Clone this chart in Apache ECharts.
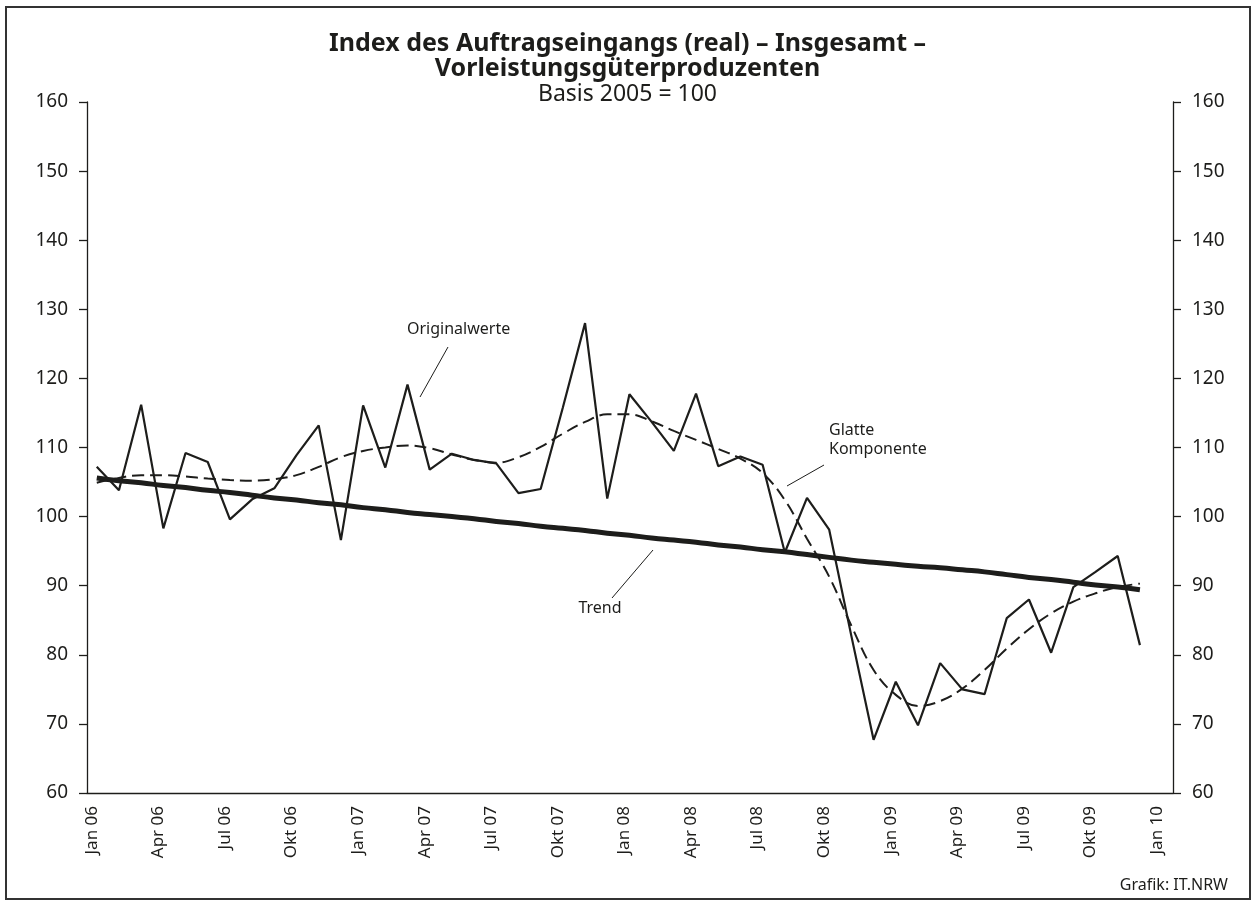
<!DOCTYPE html>
<html>
<head>
<meta charset="utf-8" />
<title>Index des Auftragseingangs</title>
<style>html,body{margin:0;padding:0;background:#fff}#chart{width:1255px;height:901px}</style>
<script src="https://cdn.jsdelivr.net/npm/echarts@6/dist/echarts.min.js"></script>
</head>
<body>
<div id="chart"></div>
<script>
// Monatswerte Jan 06 .. Dez 09 (Index 0 = Jan 06)
const originalwerte = [
  107.2, 103.8, 116.2, 98.3, 109.2, 107.9, 99.6, 102.5, 104.1, 108.9, 113.2, 96.6,
  116.1, 107.1, 119.1, 106.8, 109.1, 108.2, 107.7, 103.4, 104.0, 115.8, 128.0, 102.6,
  117.7, 113.7, 109.5, 117.8, 107.3, 108.7, 107.5, 94.8, 102.7, 98.1, 82.7, 67.7,
  76.1, 69.8, 78.8, 75.0, 74.3, 85.3, 88.0, 80.3, 89.8, 92.0, 94.3, 81.4
];
const glatteKomponente = [
  104.9, 105.6, 106.0, 106.0, 105.8, 105.5, 105.3, 105.2, 105.4, 106.0, 107.2, 108.6,
  109.5, 110.0, 110.3, 109.9, 109.0, 108.2, 107.8, 108.6, 110.1, 112.0, 113.7, 114.8,
  114.8, 113.8, 112.4, 111.1, 109.8, 108.4, 106.3, 102.4, 96.8, 91.3, 84.2, 77.8,
  74.2, 72.6, 73.3, 75.1, 77.8, 80.9, 83.7, 86.0, 87.7, 88.9, 89.8, 90.3
];
const trend = [
  105.6, 105.2, 104.9, 104.5, 104.2, 103.8, 103.5, 103.1, 102.7, 102.4, 102.0, 101.7,
  101.3, 101.0, 100.6, 100.3, 100.0, 99.7, 99.3, 99.0, 98.6, 98.3, 98.0, 97.6,
  97.3, 96.9, 96.6, 96.3, 95.9, 95.6, 95.2, 94.9, 94.5, 94.1, 93.7, 93.4,
  93.1, 92.8, 92.6, 92.3, 92.0, 91.6, 91.2, 90.9, 90.5, 90.1, 89.8, 89.4
];
const tickMonths = [0, 3, 6, 9, 12, 15, 18, 21, 24, 27, 30, 33, 36, 39, 42, 45, 48];
const tickLabels = [
  'Jan 06', 'Apr 06', 'Jul 06', 'Okt 06', 'Jan 07', 'Apr 07', 'Jul 07', 'Okt 07',
  'Jan 08', 'Apr 08', 'Jul 08', 'Okt 08', 'Jan 09', 'Apr 09', 'Jul 09', 'Okt 09', 'Jan 10'
];
const yTicks = [60, 70, 80, 90, 100, 110, 120, 130, 140, 150, 160];

const FONT = '"Noto Sans", "Open Sans", sans-serif';
const INK = '#1d1d1b';

const toPairs = (arr) => arr.map((v, i) => [i, v]);

const chart = echarts.init(document.getElementById('chart'), null, { renderer: 'canvas' });

const yAxisBase = {
  type: 'value',
  min: yTicks[0],
  max: yTicks[yTicks.length - 1],
  interval: 10,
  axisLine: { show: true, onZero: false, lineStyle: { color: INK, width: 1.3 } },
  axisTick: { show: true, inside: false, length: 8, lineStyle: { color: INK, width: 1.3 } },
  axisLabel: { fontFamily: FONT, fontSize: 19, color: INK, margin: 19 },
  splitLine: { show: false }
};

chart.setOption({
  animation: false,
  backgroundColor: '#fff',
  grid: { left: 87, right: 82, top: 102, bottom: 108, outerBoundsMode: 'none', containLabel: false },
  xAxis: {
    type: 'value',
    min: -0.44,
    max: 48.49,
    axisLine: { show: true, onZero: false, lineStyle: { color: INK, width: 1.3 } },
    axisTick: { show: false },
    splitLine: { show: false },
    axisLabel: {
      customValues: tickMonths,
      rotate: 90,
      margin: 13,
      fontFamily: FONT,
      fontSize: 17,
      color: INK,
      verticalAlign: 'bottom',
      lineHeight: 10,
      formatter: (v) => tickLabels[tickMonths.indexOf(Math.round(v))] || ''
    }
  },
  yAxis: [
    Object.assign({}, yAxisBase, { position: 'left' }),
    Object.assign({}, yAxisBase, { position: 'right' })
  ],
  series: [
    {
      name: 'Trend',
      type: 'line',
      data: toPairs(trend),
      showSymbol: false,
      smooth: true,
      lineStyle: { color: INK, width: 5 },
      z: 3
    },
    {
      name: 'Glatte Komponente',
      type: 'line',
      data: toPairs(glatteKomponente),
      showSymbol: false,
      smooth: 0.4,
      lineStyle: { color: INK, width: 2, type: [12, 6] },
      z: 4
    },
    {
      name: 'Originalwerte',
      type: 'line',
      data: toPairs(originalwerte),
      showSymbol: false,
      lineStyle: { color: INK, width: 2.2 },
      z: 5
    }
  ],
  graphic: [
    // Rahmen
    { type: 'rect', shape: { x: 6, y: 7, width: 1244, height: 892 },
      style: { fill: 'none', stroke: '#333', lineWidth: 2 }, silent: true },
    // Titel
    { type: 'text', left: 'center', top: 31,
      style: { text: 'Index des Auftragseingangs (real) – Insgesamt –', fontFamily: FONT,
        fontSize: 25, fontWeight: 'bold', fill: INK } },
    { type: 'text', left: 'center', top: 56,
      style: { text: 'Vorleistungsgüterproduzenten', fontFamily: FONT,
        fontSize: 25, fontWeight: 'bold', fill: INK } },
    { type: 'text', left: 'center', top: 83,
      style: { text: 'Basis 2005 = 100', fontFamily: FONT, fontSize: 23, fill: INK } },
    // Beschriftungen
    { type: 'text', x: 407, y: 321,
      style: { text: 'Originalwerte', fontFamily: FONT, fontSize: 16, fill: INK } },
    { type: 'line', shape: { x1: 448, y1: 347, x2: 420, y2: 397 },
      style: { stroke: INK, lineWidth: 1 } },
    { type: 'text', x: 829, y: 421,
      style: { text: 'Glatte\nKomponente', fontFamily: FONT, fontSize: 16, lineHeight: 19, fill: INK } },
    { type: 'line', shape: { x1: 824, y1: 465, x2: 787, y2: 486 },
      style: { stroke: INK, lineWidth: 1 } },
    { type: 'text', x: 600, y: 600,
      style: { text: 'Trend', fontFamily: FONT, fontSize: 16, fill: INK, align: 'center' } },
    { type: 'line', shape: { x1: 653, y1: 550, x2: 612, y2: 598 },
      style: { stroke: INK, lineWidth: 1 } },
    { type: 'text', right: 27, top: 877,
      style: { text: 'Grafik: IT.NRW', fontFamily: FONT, fontSize: 16, fill: INK } }
  ]
});

window.addEventListener('resize', () => chart.resize());
</script>
</body>
</html>
